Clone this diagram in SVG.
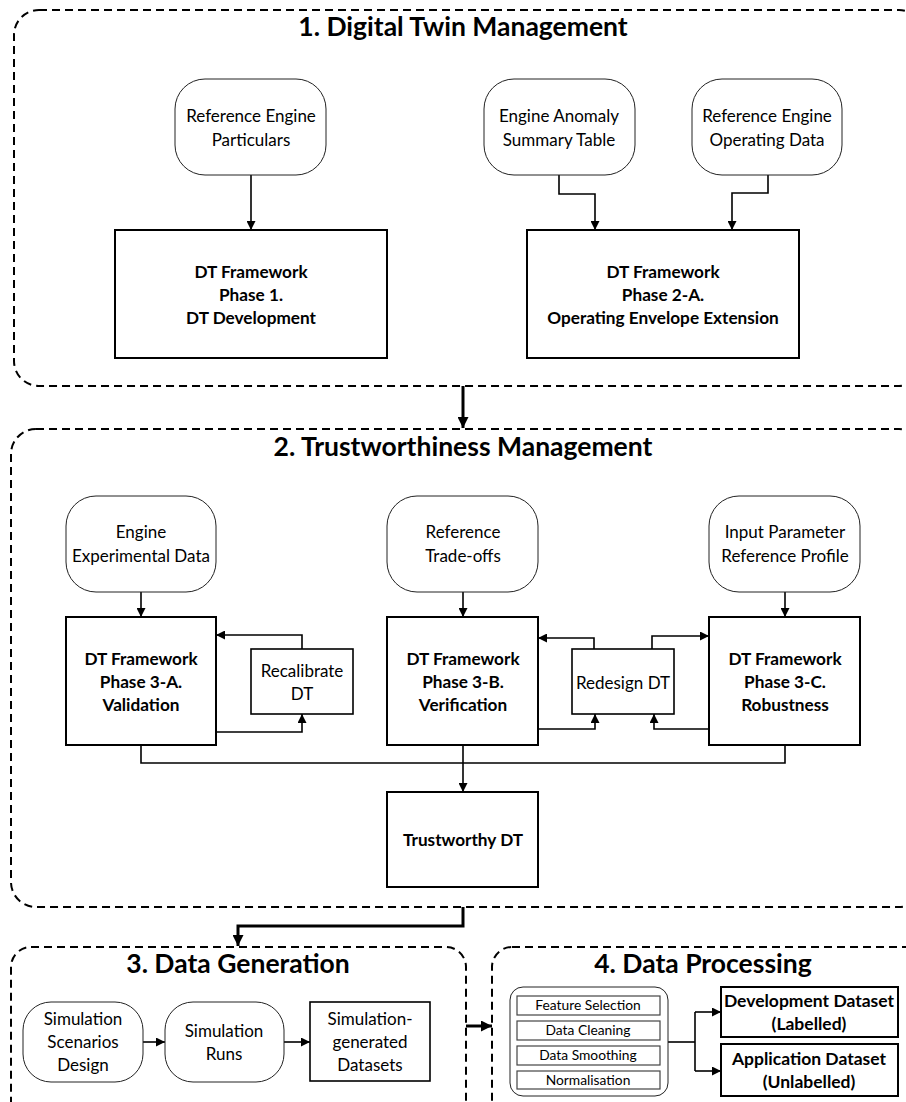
<svg xmlns="http://www.w3.org/2000/svg" width="906" height="1102" viewBox="0 0 906 1102">
  <defs>
    <style>
      .sec { fill: none; stroke: #000; stroke-width: 2; stroke-dasharray: 8 5; }
      .title { font-family: Lato, "Liberation Sans", sans-serif; font-weight: 700; font-size: 26.5px; text-anchor: middle; fill: #000; }
      .term { fill: #fff; stroke: #222; stroke-width: 1; }
      .box { fill: #fff; stroke: #000; stroke-width: 2; }
      .sub { fill: #fff; stroke: #444; stroke-width: 1.2; }
      .t { font-family: Lato, "Liberation Sans", sans-serif; font-size: 17px; text-anchor: middle; fill: #000; }
      .b { font-family: Lato, "Liberation Sans", sans-serif; font-size: 17.2px; font-weight: 700; text-anchor: middle; fill: #000; }
      .bl { font-size: 17.5px; }
      .s { font-family: Lato, "Liberation Sans", sans-serif; font-size: 13.8px; text-anchor: middle; fill: #000; }
      .c { fill: none; stroke: #000; stroke-width: 1.6; }
      .ck { fill: none; stroke: #000; stroke-width: 3; }
    </style>
    <marker id="ah" viewBox="0 0 10 10" refX="10" refY="5" markerWidth="9" markerHeight="9" markerUnits="userSpaceOnUse" orient="auto">
      <path d="M0,0 L10,5 L0,10 z" fill="#000"/>
    </marker>
    <marker id="ahk" viewBox="0 0 10 10" refX="10" refY="5" markerWidth="11" markerHeight="11" markerUnits="userSpaceOnUse" orient="auto">
      <path d="M0,0 L10,5 L0,10 z" fill="#000"/>
    </marker>
  </defs>

  <!-- Section frames -->
  <g id="section-1">
    <rect class="sec" x="14" y="10" width="910" height="376" rx="25"/>
    <text class="title" x="463" y="36">1. Digital Twin Management</text>
  </g>
  <g id="section-2">
    <rect class="sec" x="11" y="429" width="913" height="478" rx="25"/>
    <text class="title" x="463" y="456">2. Trustworthiness Management</text>
  </g>
  <g id="section-3">
    <rect class="sec" x="11" y="947" width="455" height="180" rx="20"/>
    <text class="title" x="238" y="973">3. Data Generation</text>
  </g>
  <g id="section-4">
    <rect class="sec" x="492" y="947" width="440" height="180" rx="20"/>
    <text class="title" x="703" y="973">4. Data Processing</text>
  </g>

  <!-- Connectors -->
  <g id="connectors">
    <path class="c" d="M251,175 V230" marker-end="url(#ah)"/>
    <path class="c" d="M559,175 V194 H595 V230" marker-end="url(#ah)"/>
    <path class="c" d="M768,175 V193 H732 V230" marker-end="url(#ah)"/>
    <path class="ck" d="M463,386 V428" marker-end="url(#ahk)"/>

    <path class="c" d="M141,592 V617" marker-end="url(#ah)"/>
    <path class="c" d="M463,592 V617" marker-end="url(#ah)"/>
    <path class="c" d="M785,592 V617" marker-end="url(#ah)"/>

    <path class="c" d="M302,649 V635 H216" marker-end="url(#ah)"/>
    <path class="c" d="M216,732 H302 V714" marker-end="url(#ah)"/>

    <path class="c" d="M594,649 V638 H538" marker-end="url(#ah)"/>
    <path class="c" d="M652,649 V636 H709" marker-end="url(#ah)"/>
    <path class="c" d="M538,729 H595 V714" marker-end="url(#ah)"/>
    <path class="c" d="M709,729 H654 V714" marker-end="url(#ah)"/>

    <path class="c" d="M141,745 V763 H785 V745"/>
    <path class="c" d="M463,745 V792" marker-end="url(#ah)"/>

    <path class="ck" d="M463,907 V926 H238 V946" marker-end="url(#ahk)"/>

    <path class="c" d="M143,1042 H165" marker-end="url(#ah)"/>
    <path class="c" d="M284,1042 H310" marker-end="url(#ah)"/>
    <path class="ck" d="M466,1026 H492" marker-end="url(#ahk)"/>

    <path class="c" d="M668,1042 H695"/>
    <path class="c" d="M695,1012 V1071"/>
    <path class="c" d="M695,1012 H721" marker-end="url(#ah)"/>
    <path class="c" d="M695,1071 H721" marker-end="url(#ah)"/>
  </g>

  <!-- Section 1 nodes -->
  <g id="ref-engine-particulars">
    <rect class="term" x="175" y="79" width="151" height="96" rx="30"/>
    <text class="t" x="251" y="122">Reference Engine</text>
    <text class="t" x="251" y="146">Particulars</text>
  </g>
  <g id="anomaly-table">
    <rect class="term" x="484" y="79" width="151" height="96" rx="30"/>
    <text class="t" x="559" y="122">Engine Anomaly</text>
    <text class="t" x="559" y="146">Summary Table</text>
  </g>
  <g id="ref-operating-data">
    <rect class="term" x="692" y="79" width="150" height="96" rx="30"/>
    <text class="t" x="767" y="122">Reference Engine</text>
    <text class="t" x="767" y="146">Operating Data</text>
  </g>
  <g id="phase-1">
    <rect class="box" x="115" y="230" width="272" height="128"/>
    <text class="b" x="251" y="278">DT Framework</text>
    <text class="b" x="251" y="301">Phase 1.</text>
    <text class="b" x="251" y="324">DT Development</text>
  </g>
  <g id="phase-2a">
    <rect class="box" x="527" y="230" width="272" height="128"/>
    <text class="b" x="663" y="278">DT Framework</text>
    <text class="b" x="663" y="301">Phase 2-A.</text>
    <text class="b" x="663" y="324">Operating Envelope Extension</text>
  </g>

  <!-- Section 2 nodes -->
  <g id="experimental-data">
    <rect class="term" x="66" y="496" width="150" height="96" rx="30"/>
    <text class="t" x="141" y="538">Engine</text>
    <text class="t" x="141" y="562">Experimental Data</text>
  </g>
  <g id="trade-offs">
    <rect class="term" x="387" y="496" width="151" height="96" rx="30"/>
    <text class="t" x="463" y="538">Reference</text>
    <text class="t" x="463" y="562">Trade-offs</text>
  </g>
  <g id="input-profile">
    <rect class="term" x="709" y="496" width="151" height="96" rx="30"/>
    <text class="t" x="785" y="538">Input Parameter</text>
    <text class="t" x="785" y="562">Reference Profile</text>
  </g>
  <g id="phase-3a">
    <rect class="box" x="66" y="617" width="150" height="128"/>
    <text class="b" x="141" y="665">DT Framework</text>
    <text class="b" x="141" y="688">Phase 3-A.</text>
    <text class="b" x="141" y="711">Validation</text>
  </g>
  <g id="recalibrate">
    <rect class="box" x="251" y="649" width="102" height="65" style="stroke-width:1.6"/>
    <text class="t" x="302" y="677">Recalibrate</text>
    <text class="t" x="302" y="700">DT</text>
  </g>
  <g id="phase-3b">
    <rect class="box" x="387" y="617" width="151" height="128"/>
    <text class="b" x="463" y="665">DT Framework</text>
    <text class="b" x="463" y="688">Phase 3-B.</text>
    <text class="b" x="463" y="711">Verification</text>
  </g>
  <g id="redesign">
    <rect class="box" x="572" y="649" width="102" height="65" style="stroke-width:1.6"/>
    <text class="t" x="623" y="689">Redesign DT</text>
  </g>
  <g id="phase-3c">
    <rect class="box" x="709" y="617" width="151" height="128"/>
    <text class="b" x="785" y="665">DT Framework</text>
    <text class="b" x="785" y="688">Phase 3-C.</text>
    <text class="b" x="785" y="711">Robustness</text>
  </g>
  <g id="trustworthy-dt">
    <rect class="box" x="387" y="792" width="151" height="95"/>
    <text class="b" x="463" y="846">Trustworthy DT</text>
  </g>

  <!-- Section 3 nodes -->
  <g id="scenarios-design">
    <rect class="term" x="23" y="1002" width="120" height="80" rx="28"/>
    <text class="t" x="83" y="1025">Simulation</text>
    <text class="t" x="83" y="1048">Scenarios</text>
    <text class="t" x="83" y="1071">Design</text>
  </g>
  <g id="simulation-runs">
    <rect class="term" x="165" y="1002" width="119" height="80" rx="28"/>
    <text class="t" x="224" y="1037">Simulation</text>
    <text class="t" x="224" y="1060">Runs</text>
  </g>
  <g id="generated-datasets">
    <rect class="box" x="310" y="1002" width="120" height="79" style="stroke-width:1.6"/>
    <text class="t" x="370" y="1025">Simulation-</text>
    <text class="t" x="370" y="1048">generated</text>
    <text class="t" x="370" y="1071">Datasets</text>
  </g>

  <!-- Section 4 nodes -->
  <g id="processing-steps">
    <rect class="term" x="510" y="987" width="158" height="109" rx="13"/>
    <rect class="sub" x="517" y="996" width="143" height="19"/>
    <text class="s" x="588" y="1010">Feature Selection</text>
    <rect class="sub" x="517" y="1021" width="143" height="19"/>
    <text class="s" x="588" y="1035">Data Cleaning</text>
    <rect class="sub" x="517" y="1046" width="143" height="19"/>
    <text class="s" x="588" y="1060">Data Smoothing</text>
    <rect class="sub" x="517" y="1071" width="143" height="18"/>
    <text class="s" x="588" y="1085">Normalisation</text>
  </g>
  <g id="development-dataset">
    <rect class="box" x="721" y="987" width="177" height="50"/>
    <text class="b bl" x="809" y="1007">Development Dataset</text>
    <text class="b bl" x="809" y="1030">(Labelled)</text>
  </g>
  <g id="application-dataset">
    <rect class="box" x="721" y="1044" width="177" height="52"/>
    <text class="b bl" x="809" y="1065">Application Dataset</text>
    <text class="b bl" x="809" y="1088">(Unlabelled)</text>
  </g>
</svg>
